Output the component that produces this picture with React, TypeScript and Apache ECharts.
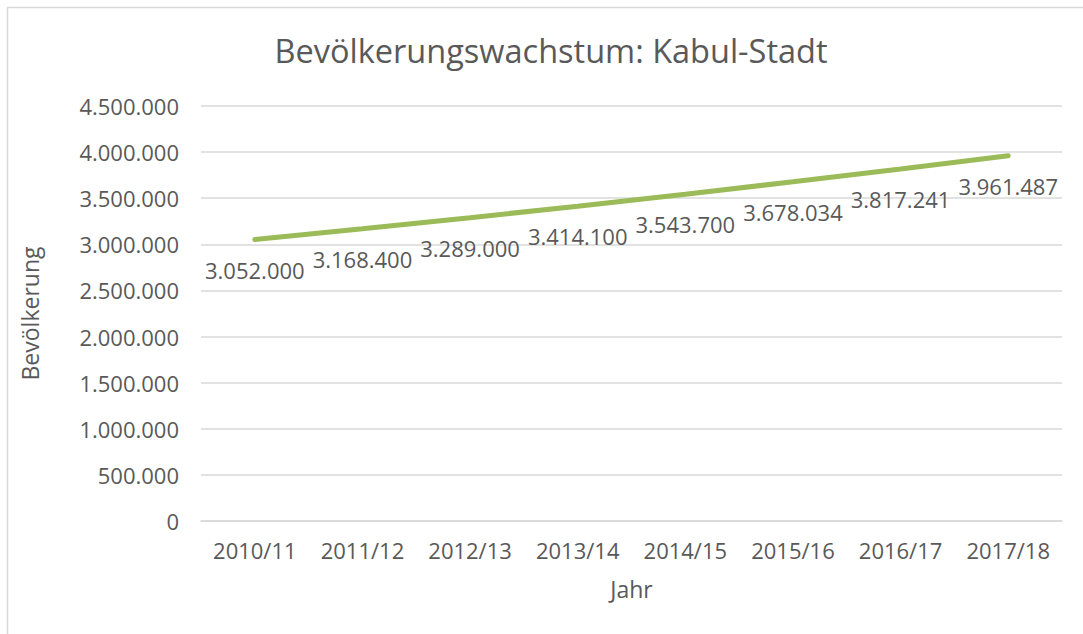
import React, { useEffect, useRef } from "react";
import * as echarts from "echarts";

const categories = ["2010/11", "2011/12", "2012/13", "2013/14", "2014/15", "2015/16", "2016/17", "2017/18"];
const population = [3052000, 3168400, 3289000, 3414100, 3543700, 3678034, 3817241, 3961487];
const chartTitle = "Bevölkerungswachstum: Kabul-Stadt";
const xName = "Jahr";
const yName = "Bevölkerung";

const fmt = (v: number) => String(Math.round(v)).replace(/\B(?=(\d{3})+(?!\d))/g, ".");

const FONT = "'Open Sans', 'Noto Sans', sans-serif";
const TXT = "#595959";

export default function App() {
  const ref = useRef<HTMLDivElement>(null);
  useEffect(() => {
    if (!ref.current) return;
    const chart = echarts.init(ref.current, undefined, { renderer: "svg" });
    chart.setOption({
      animation: false,
      backgroundColor: "#ffffff",
      textStyle: { fontFamily: FONT, color: TXT },
      graphic: [
        {
          type: "rect",
          shape: { x: 7.5, y: 7.5, width: 1200, height: 800 },
          style: { fill: "none", stroke: "#d9d9d9", lineWidth: 1.5 },
          silent: true,
        },
      ],
      title: {
        text: chartTitle,
        left: 546,
        top: 29,
        textAlign: "center",
        textStyle: { fontFamily: FONT, color: TXT, fontSize: 32.5, fontWeight: "normal" },
      },
      grid: { left: 201, right: 21, top: 106, bottom: 113, containLabel: false },
      xAxis: {
        type: "category",
        data: categories,
        boundaryGap: true,
        name: xName,
        nameLocation: "middle",
        nameGap: 56,
        nameTextStyle: { fontFamily: FONT, color: TXT, fontSize: 23 },
        axisLine: { show: true, lineStyle: { color: "#d9d9d9", width: 1.5 } },
        axisTick: { show: false },
        axisLabel: { fontFamily: FONT, color: TXT, fontSize: 22, margin: 18, interval: 0 },
      },
      yAxis: {
        type: "value",
        min: 0,
        max: 4500000,
        interval: 500000,
        name: yName,
        nameLocation: "middle",
        nameGap: 160,
        nameRotate: 90,
        nameTextStyle: { fontFamily: FONT, color: TXT, fontSize: 23 },
        axisLine: { show: false },
        axisTick: { show: false },
        splitLine: { lineStyle: { color: "#d9d9d9", width: 1.5 } },
        axisLabel: { fontFamily: FONT, color: TXT, fontSize: 22, margin: 22, formatter: (v: number) => fmt(v) },
      },
      series: [
        {
          type: "line",
          data: population,
          symbol: "circle",
          symbolSize: 2,
          showSymbol: true,
          showAllSymbol: true,
          smooth: false,
          lineStyle: { color: "#9BBB59", width: 5, cap: "round" },
          itemStyle: { color: "rgba(155,187,89,0)", borderWidth: 0 },
          label: {
            show: true,
            position: "bottom",
            distance: 18,
            fontFamily: FONT,
            color: TXT,
            opacity: 1,
            fontSize: 22,
            formatter: (p: any) => fmt(p.value),
          },
          labelLayout: { hideOverlap: false },
        },
      ],
    });
    return () => chart.dispose();
  }, []);
  return <div ref={ref} style={{ position: "fixed", left: 0, top: 0, width: 1083, height: 634 }} />;
}
